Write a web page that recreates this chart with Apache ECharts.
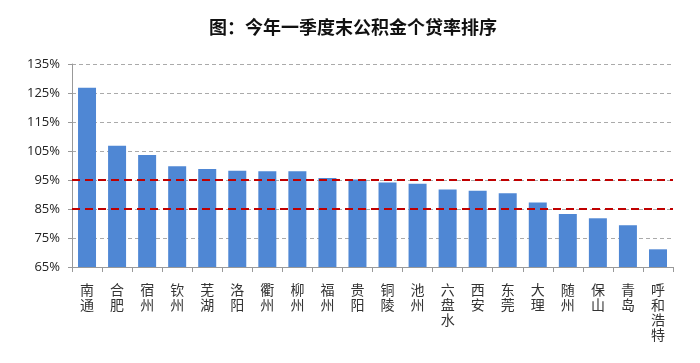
<!DOCTYPE html>
<html>
<head>
<meta charset="utf-8">
<script src="https://cdn.jsdelivr.net/npm/echarts@6/dist/echarts.min.js"></script>
<style>
html,body{margin:0;padding:0;background:#fff;}
#c{width:700px;height:363px;}
</style>
</head>
<body>
<div id="c"></div>
<script>
const titleText = '图：今年一季度末公积金个贷率排序';
const categories = ['南通','合肥','宿州','钦州','芜湖','洛阳','衢州','柳州','福州','贵阳','铜陵','池州','六盘水','西安','东莞','大理','随州','保山','青岛','呼和浩特'];
const values = [126.8,106.8,103.6,99.7,98.8,98.2,98.0,98.0,95.7,95.2,94.1,93.7,91.7,91.3,90.4,87.2,83.3,81.8,79.4,71.1];
const refLines = [95, 85];
const yMin = 65, yMax = 135, yStep = 10;

const chart = echarts.init(document.getElementById('c'), null, {renderer:'canvas'});
chart.setOption({
  backgroundColor:'#fff',
  animation:false,
  title:{
    text:titleText, left:348, top:13, textAlign:'center',
    textStyle:{fontFamily:'Noto Sans CJK SC', fontSize:18, fontWeight:'bold', color:'#111'}
  },
  grid:{left:72, right:27, top:64, bottom:96, containLabel:false},
  xAxis:{
    type:'category', data:categories, boundaryGap:true,
    axisLine:{lineStyle:{color:'#999', width:1}},
    axisTick:{show:true, alignWithLabel:false, length:5, lineStyle:{color:'#999'}},
    axisLabel:{
      interval:0, margin:15, color:'#333', fontSize:14, lineHeight:15,
      fontFamily:'Noto Sans CJK SC', verticalAlign:'top',
      formatter:v => v.split('').join('\n')
    }
  },
  yAxis:{
    type:'value', min:yMin, max:yMax, interval:yStep,
    axisLine:{show:true, lineStyle:{color:'#999'}},
    axisTick:{show:true, length:4, lineStyle:{color:'#999'}},
    axisLabel:{formatter:v => v + '%', color:'#222', fontSize:13, fontFamily:'Open Sans', margin:12},
    splitLine:{show:true, lineStyle:{color:'#aaa', type:[4,3], width:1}}
  },
  series:[{
    type:'bar', data:values, barWidth:18,
    itemStyle:{color:'#4f87d4'},
    markLine:{
      silent:true, symbol:'none', label:{show:false},
      lineStyle:{color:'#c00000', type:[8,5], width:2.2},
      data: refLines.map(v => ({yAxis:v}))
    }
  }]
});
</script>
</body>
</html>
